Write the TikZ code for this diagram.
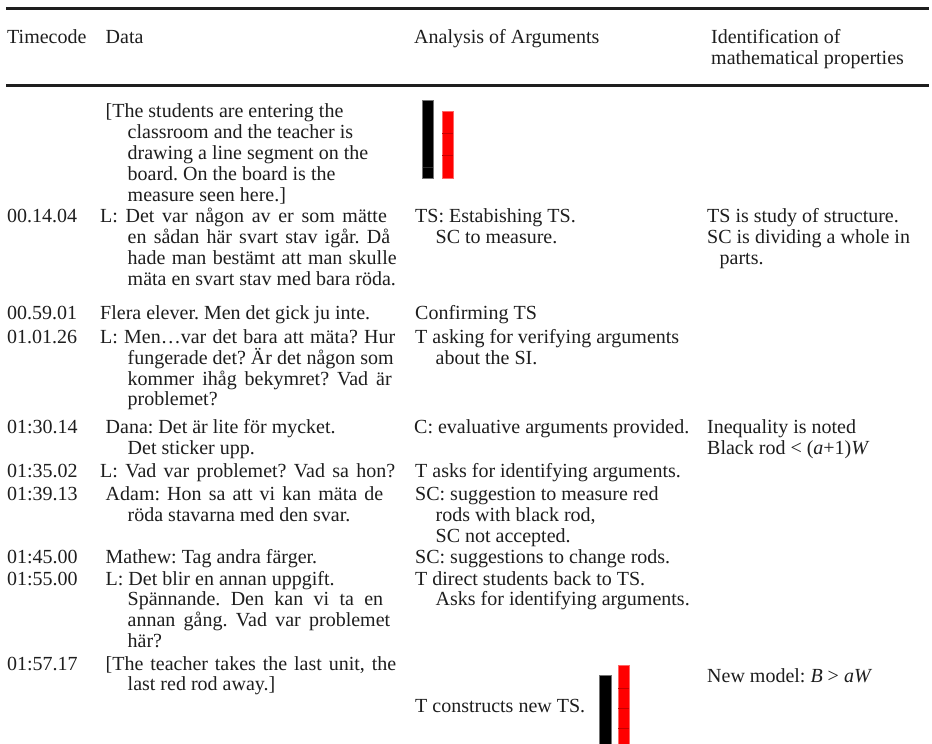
\documentclass[tikz,border=0pt]{standalone}
\usepackage{fontspec}
\setmainfont{Liberation Serif}
\definecolor{ink}{RGB}{30,30,30}
\definecolor{rodred}{RGB}{255,0,0}
\definecolor{rodline}{RGB}{200,0,0}
\definecolor{rodgrey}{RGB}{45,45,45}
\newcommand{\jline}[2]{\makebox[#1pt][s]{#2}}
\begin{document}
\frenchspacing
\begin{tikzpicture}[x=1pt,y=-1pt,
  tx/.style={anchor=base west,inner sep=0pt,text=ink,font=\fontsize{20}{24}\selectfont\frenchspacing},
  rule/.style={draw=ink},
  blackrod/.style={fill=black,draw=black!55,line width=0.5pt},
  redrod/.style={fill=rodred,draw=red!60!white,line width=0.5pt},
  reddiv/.style={draw=rodline,line width=0.6pt},
  blackdiv/.style={draw=rodgrey,line width=0.5pt}]
\useasboundingbox[fill=white] (0,0) rectangle (932,744);
% rules
\draw[rule,line width=2.5pt] (6,8.7) -- (929,8.7);
\draw[rule,line width=3pt] (6,85.8) -- (929,85.8);
% header
\node[tx] (hT) at (7,43) {Timecode};
\node[tx] (hD) at (105.5,43) {Data};
\node[tx] (hA) at (414,43) {Analysis of Arguments};
\node[tx] (hI1) at (711,43) {Identification of};
\node[tx] (hI2) at (711,64.5) {mathematical properties};
% timecodes
\node[tx] (t5) at (6.8,222.5) {00.14.04};
\node[tx] (t9) at (6.8,319) {00.59.01};
\node[tx] (t10) at (6.8,343.5) {01.01.26};
\node[tx] (t14) at (6.8,433.5) {01:30.14};
\node[tx] (t16) at (6.8,477.7) {01:35.02};
\node[tx] (t17) at (6.8,500.5) {01:39.13};
\node[tx] (t20) at (6.8,563.4) {01:45.00};
\node[tx] (t21) at (6.8,585) {01:55.00};
\node[tx] (t25) at (6.8,670) {01:57.17};
% data column
\node[tx] (d0) at (105.5,117.5) {[The students are entering the};
\node[tx] (d1) at (127.5,138.4) {classroom and the teacher is};
\node[tx] (d2) at (127.5,159.3) {drawing a line segment on the};
\node[tx] (d3) at (127.5,180.2) {board. On the board is the};
\node[tx] (d4) at (127.5,201.1) {measure seen here.]};
\node[tx] (d5) at (100,222.5) {\jline{286.7}{L: Det var någon av er som mätte}};
\node[tx] (d6) at (127.5,243.3) {\jline{262.5}{en sådan här svart stav igår. Då}};
\node[tx] (d7) at (127.5,264.1) {\jline{269}{hade man bestämt att man skulle}};
\node[tx] (d8) at (127.5,285.5) {mäta en svart stav med bara röda.};
\node[tx] (d9) at (100,319) {Flera elever. Men det gick ju inte.};
\node[tx] (d10) at (100,343.5) {\jline{295}{L: Men…var det bara att mäta? Hur}};
\node[tx] (d11) at (127.5,364.3) {fungerade det? Är det någon som};
\node[tx] (d12) at (127.5,385.1) {\jline{264}{kommer ihåg bekymret? Vad är}};
\node[tx] (d13) at (127.5,405.9) {problemet?};
\node[tx] (d14) at (105.5,433.5) {Dana: Det är lite för mycket.};
\node[tx] (d15) at (127.5,454) {Det sticker upp.};
\node[tx] (d16) at (100,477.7) {\jline{295}{L: Vad var problemet? Vad sa hon?}};
\node[tx] (d17) at (105.5,500.5) {\jline{277.5}{Adam: Hon sa att vi kan mäta de}};
\node[tx] (d18) at (127.5,521.3) {röda stavarna med den svar.};
\node[tx] (d20) at (105.5,563.4) {Mathew: Tag andra färger.};
\node[tx] (d21) at (105.5,585) {L: Det blir en annan uppgift.};
\node[tx] (d22) at (127.5,605.8) {\jline{255.5}{Spännande. Den kan vi ta en}};
\node[tx] (d23) at (127.5,626.6) {\jline{262.5}{annan gång. Vad var problemet}};
\node[tx] (d24) at (127.5,647.4) {här?};
\node[tx] (d25) at (105.5,670) {\jline{290.5}{[The teacher takes the last unit, the}};
\node[tx] (d26) at (127.5,690.8) {last red rod away.]};
% analysis column
\node[tx] (a5) at (415,222.5) {TS: Estabishing TS.};
\node[tx] (a6) at (435.5,243.3) {SC to measure.};
\node[tx] (a9) at (415,319) {Confirming TS};
\node[tx] (a10) at (415,343.5) {T asking for verifying arguments};
\node[tx] (a11) at (435.5,364.3) {about the SI.};
\node[tx] (a14) at (414,433.5) {C: evaluative arguments provided.};
\node[tx] (a16) at (415,477.7) {T asks for identifying arguments.};
\node[tx] (a17) at (415,500.5) {SC: suggestion to measure red};
\node[tx] (a18) at (435.5,521.3) {rods with black rod,};
\node[tx] (a19) at (435.5,542.1) {SC not accepted.};
\node[tx] (a20) at (415,563.4) {SC: suggestions to change rods.};
\node[tx] (a21) at (415,585) {T direct students back to TS.};
\node[tx] (a22) at (435.5,605.8) {Asks for identifying arguments.};
\node[tx] (a25) at (415,712.7) {T constructs new TS.};
% identification column
\node[tx] (m5) at (707,222.5) {TS is study of structure.};
\node[tx] (m6) at (707,243.3) {SC is dividing a whole in};
\node[tx] (m7) at (719.5,264.1) {parts.};
\node[tx] (m14) at (707,433.5) {Inequality is noted};
\node[tx] (m15) at (707,454) {Black rod < (\textit{a}+1)\textit{W}};
\node[tx] (m25) at (707,682.7) {New model: \textit{B} > \textit{aW}};
% rods, first picture
\draw[blackrod] (422.3,100.3) rectangle (433,178.7);
\draw[blackdiv] (422.6,167) -- (432.7,167);
\draw[redrod] (442,111.7) rectangle (453,178.7);
\draw[reddiv] (442,133.3) -- (453,133.3);
\draw[reddiv] (442,155.7) -- (453,155.7);
% rods, second picture
\draw[blackrod] (599.7,745) -- (599.7,675.7) -- (611.3,675.7) -- (611.3,745);
\draw[redrod] (618.3,745) -- (618.3,665.3) -- (629.3,665.3) -- (629.3,745);
\draw[reddiv] (618.3,688.7) -- (629.3,688.7);
\draw[reddiv] (618.3,708.3) -- (629.3,708.3);
\draw[reddiv] (618.3,728.3) -- (629.3,728.3);
\end{tikzpicture}
\end{document}
